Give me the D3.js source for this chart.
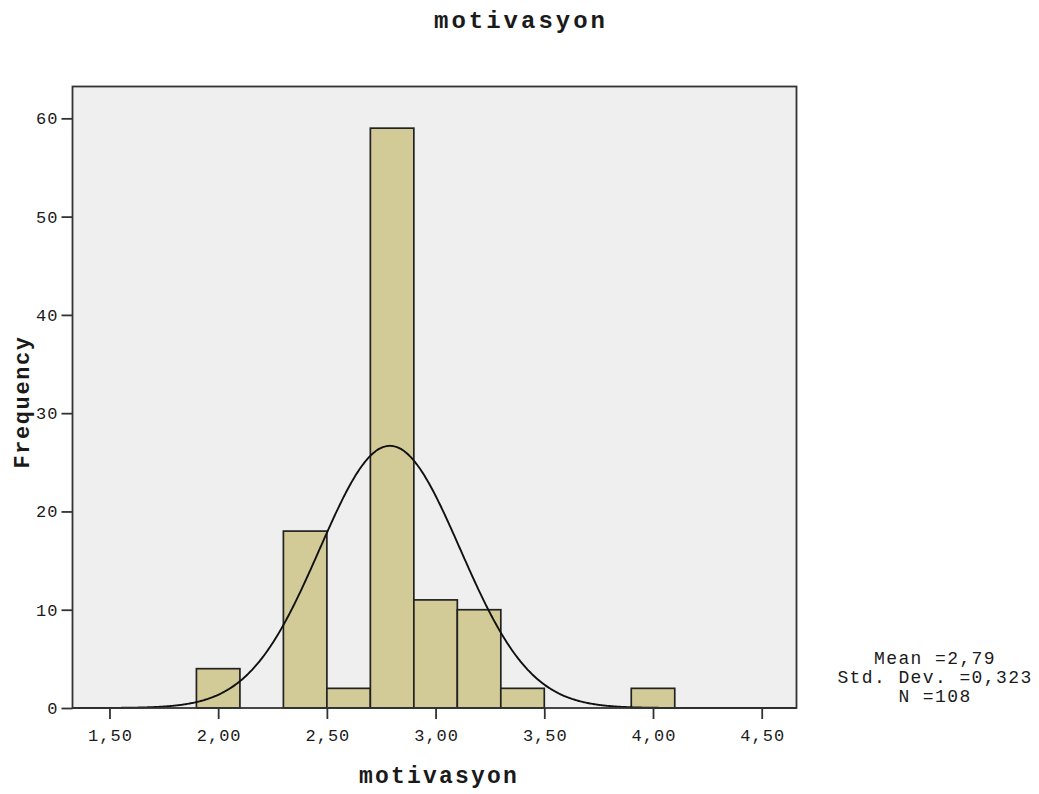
<!DOCTYPE html>
<html>
<head>
<meta charset="utf-8">
<script src="https://cdn.jsdelivr.net/npm/d3@7"></script>
<style>
  body { margin: 0; background: #fff; }
  text { font-family: "Liberation Mono", "DejaVu Sans Mono", monospace; fill: #1a1a1a; }
</style>
</head>
<body>
<div id="chart"></div>
<script>
// histogram bins (lower edge, upper edge) and counts
const binStarts = [1.9, 2.3, 2.5, 2.7, 2.9, 3.1, 3.3, 3.9];
const binEnds   = [2.1, 2.5, 2.7, 2.9, 3.1, 3.3, 3.5, 4.1];
const counts    = [4, 18, 2, 59, 11, 10, 2, 2];

const xTicks = [1.5, 2.0, 2.5, 3.0, 3.5, 4.0, 4.5];
const yTicks = [0, 10, 20, 30, 40, 50, 60];

// summary stats shown in the legend
const MEAN = 2.79, SD = 0.323, N = 108, BIN = 0.2;
const statLines = ["Mean =2,79", "Std. Dev. =0,323", "N =108"];

function draw() {
    const W = 1039, H = 794;
    const plot = { left: 72.5, right: 796.5, top: 86.5, bottom: 708 };

    const svg = d3.select("#chart").append("svg")
        .attr("width", W)
        .attr("height", H);

    const x = d3.scaleLinear().domain([1.33, 4.66]).range([plot.left, plot.right]);
    const y = d3.scaleLinear().domain([0, 63.24]).range([plot.bottom, plot.top]);

    // plot background
    svg.append("rect")
        .attr("x", plot.left).attr("y", plot.top)
        .attr("width", plot.right - plot.left)
        .attr("height", plot.bottom - plot.top)
        .attr("fill", "#efefef");

    // bars
    svg.append("g").selectAll("rect")
        .data(counts)
        .join("rect")
        .attr("x", (d, i) => x(binStarts[i]))
        .attr("width", (d, i) => x(binEnds[i]) - x(binStarts[i]))
        .attr("y", d => y(d))
        .attr("height", d => y(0) - y(d))
        .attr("fill", "#d3cb97")
        .attr("stroke", "#222")
        .attr("stroke-width", 1.7);

    // normal curve from the stats
    const pts = d3.range(1.33, 4.661, 0.005).map(v => ({
        v: v,
        f: N * BIN / (SD * Math.sqrt(2 * Math.PI)) * Math.exp(-0.5 * Math.pow((v - MEAN) / SD, 2))
    }));
    svg.append("path")
        .datum(pts)
        .attr("d", d3.line().x(d => x(d.v)).y(d => y(d.f)).curve(d3.curveBasis))
        .attr("fill", "none")
        .attr("stroke", "#111")
        .attr("stroke-width", 1.9);

    // frame
    svg.append("rect")
        .attr("x", plot.left).attr("y", plot.top)
        .attr("width", plot.right - plot.left)
        .attr("height", plot.bottom - plot.top)
        .attr("fill", "none")
        .attr("stroke", "#333")
        .attr("stroke-width", 1.8);

    // axes
    const xAxis = svg.append("g")
        .attr("transform", "translate(0," + plot.bottom + ")")
        .call(d3.axisBottom(x).tickValues(xTicks).tickSize(11).tickPadding(10)
            .tickFormat(d => d3.format(".2f")(d).replace(".", ",")));
    const yAxis = svg.append("g")
        .attr("transform", "translate(" + plot.left + ",0)")
        .call(d3.axisLeft(y).tickValues(yTicks).tickSize(11).tickPadding(3));

    [xAxis, yAxis].forEach(a => {
        a.select(".domain").remove();
        a.selectAll(".tick line").attr("stroke", "#333").attr("stroke-width", 1.8);
        a.selectAll(".tick text")
            .attr("font-family", "Liberation Mono")
            .attr("font-size", 17)
            .attr("letter-spacing", 1)
            .attr("fill", "#222");
    });
    xAxis.selectAll(".tick text").attr("dx", 0.5);

    // titles
    svg.append("text")
        .attr("x", 521).attr("y", 28)
        .attr("text-anchor", "middle")
        .attr("font-size", 24).attr("font-weight", "bold")
        .attr("letter-spacing", 3)
        .text("motivasyon");

    svg.append("text")
        .attr("x", 439).attr("y", 783)
        .attr("text-anchor", "middle")
        .attr("font-size", 23).attr("font-weight", "bold")
        .attr("letter-spacing", 2.2)
        .text("motivasyon");

    svg.append("text")
        .attr("transform", "translate(29,402) rotate(-90)")
        .attr("text-anchor", "middle")
        .attr("font-size", 22).attr("font-weight", "bold")
        .attr("letter-spacing", 1.6)
        .text("Frequency");

    // stats box
    svg.append("g").selectAll("text")
        .data(statLines)
        .join("text")
        .attr("x", 935)
        .attr("y", (d, i) => 664 + i * 19)
        .attr("text-anchor", "middle")
        .attr("font-size", 18)
        .attr("letter-spacing", 1.4)
        .text(d => d);
}

draw();
</script>
</body>
</html>
